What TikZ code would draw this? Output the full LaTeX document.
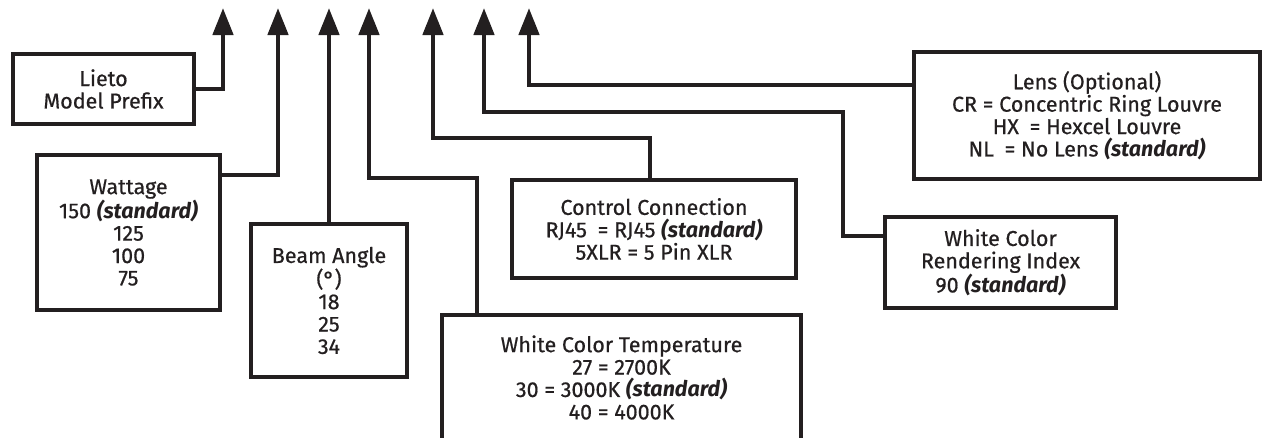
\documentclass[tikz,border=0pt]{standalone}
\usepackage{fontspec}
\setmainfont{Fira Sans}[UprightFeatures={FakeBold=0.6}]
\usetikzlibrary{arrows.meta}

\definecolor{ink}{HTML}{231F20}
\newcommand{\stdopt}{\textbf{\textit{(standard)}}}

\begin{document}
\begin{tikzpicture}[
  x=1pt, y=-1pt,
  optbox/.style={
    rectangle,
    draw=ink,
    line width=4.5pt,
    inner sep=0pt,
    text=ink,
    align=center,
    font=\fontsize{21.5}{22.4}\selectfont
  },
  pointer/.style={draw=ink, line width=4.5pt, -{Triangle[length=27pt,width=20pt]}}
]
\clip (0,0) rectangle (1262,437);

% --- ARROW TIPS ----------------------------------------------------
\foreach \i/\xpos in {1/223,2/278,3/329,4/369,5/433,6/484,7/529}
  \coordinate (tip\i) at (\xpos,8);

% --- MODEL PREFIX --------------------------------------------------
\node[optbox, minimum width=181pt, minimum height=70pt] (lieto) at (103.5,89) {
  Lieto\\
  Model Prefix
};

% --- WATTAGE -------------------------------------------------------
\node[optbox, minimum width=183pt, minimum height=155pt] (wattage) at (128.5,232.5) {
  Wattage\\
  150 \stdopt\\
  125\\
  100\\
  75
};

% --- BEAM ANGLE ----------------------------------------------------
\node[optbox, minimum width=156pt, minimum height=153pt] (beam) at (329,300.5) {
  Beam Angle\\
  (°)\\
  18\\
  25\\
  34
};

% --- COLOR TEMPERATURE ---------------------------------------------
\node[optbox, minimum width=359pt, minimum height=125pt] (wct) at (621.5,377.5) {
  White Color Temperature\\
  27 = 2700K\\
  30 = 3000K \stdopt\\
  40 = 4000K
};

% --- CONTROL -------------------------------------------------------
\node[optbox, minimum width=284pt, minimum height=98pt] (control) at (654,229) {
  Control Connection\\
  RJ45\enspace= RJ45 \stdopt\\
  5XLR = 5 Pin XLR
};

% --- CRI -----------------------------------------------------------
\node[optbox, minimum width=231pt, minimum height=91pt] (cri) at (1000.5,262.5) {
  White Color\\
  Rendering Index\\
  90 \stdopt
};

% --- LENS ----------------------------------------------------------
\node[optbox, minimum width=346pt, minimum height=127pt] (lens) at (1087,115.5) {
  Lens (Optional)\\
  CR = Concentric Ring Louvre\\
  HX\enspace= Hexcel Louvre\\
  NL\enspace= No Lens \stdopt
};

% --- LEADERS -------------------------------------------------------
\coordinate (bend4) at (477,178);
\coordinate (bend5) at (650,138);
\coordinate (bend6) at (843,112);

\draw[pointer] (lieto.east) -| (tip1);
\draw[pointer] ([yshift=-22pt]wattage.north east) -| (tip2);
\draw[pointer] (beam.north) -- (tip3);
\draw[pointer] (wct.north -| bend4) -- (bend4) -| (tip4);
\draw[pointer] (control.north -| bend5) -- (bend5) -| (tip5);
\draw[pointer] ([yshift=-21pt]cri.north west) -| (bend6) -| (tip6);
\draw[pointer] ([yshift=-35pt]lens.north west) -| (tip7);

\end{tikzpicture}
\end{document}
